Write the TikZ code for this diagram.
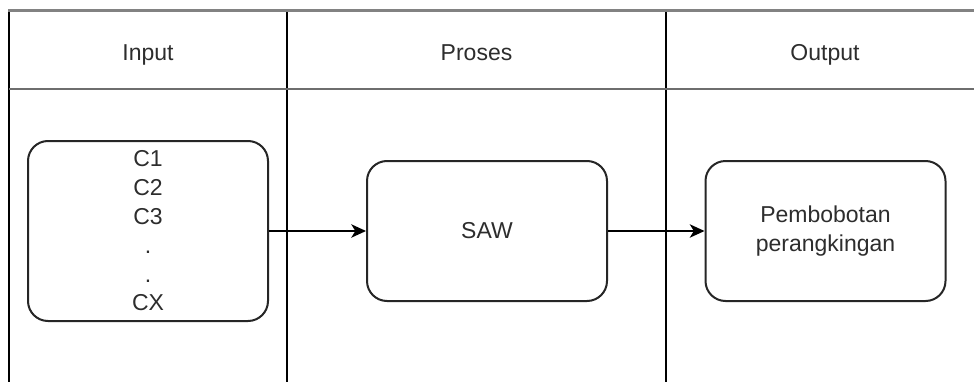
\documentclass[tikz,border=0pt]{standalone}
\usepackage{fontspec}
\setmainfont{Liberation Sans}
\usetikzlibrary{arrows.meta}
\definecolor{txt}{RGB}{45,45,45}
\definecolor{topgray}{RGB}{130,130,130}
\definecolor{hdrgray}{RGB}{110,110,110}
\tikzset{
  procbox/.style={draw=black!85, line width=1.5pt, rounded corners=15pt, align=center,
    text=txt, font=\fontsize{17.25pt}{21.6pt}\selectfont, inner sep=0pt},
  hdr/.style={text=txt, font=\fontsize{17.25pt}{21.6pt}\selectfont, anchor=base},
  lane/.style={draw=black, line width=1.4pt},
  flow/.style={draw=black, line width=1.5pt, -{Stealth[length=11pt,width=10pt,inset=3pt]}}
}
\begin{document}
\begin{tikzpicture}[x=0.75pt,y=-0.75pt]
\useasboundingbox (0,0) rectangle (974,382);
\fill[white] (0,0) rectangle (974,382);
% lanes
\coordinate (l0t) at (9,10);   \coordinate (l0b) at (9,382);
\coordinate (l1t) at (287,10); \coordinate (l1b) at (287,382);
\coordinate (l2t) at (666,10); \coordinate (l2b) at (666,382);
\coordinate (tl) at (8,10.5);  \coordinate (tr) at (974,10.5);
\coordinate (hl) at (9,89);    \coordinate (hr) at (974,89);
\draw[lane] (l0t) -- (l0b);
\draw[lane] (l1t) -- (l1b);
\draw[lane] (l2t) -- (l2b);
\draw[draw=topgray, line width=2.4pt] (tl) -- (tr);
\draw[draw=hdrgray, line width=1.8pt] (hl) -- (hr);
% headers
\node[hdr] (hin) at (148,60) {Input};
\node[hdr] (hpr) at (476.5,60) {Proses};
\node[hdr] (hout) at (825,60) {Output};
% boxes
\node[procbox, minimum width=180pt, minimum height=135pt] (in) at (148,231)
  {C1\\C2\\C3\\.\\.\\CX};
\node[procbox, minimum width=180pt, minimum height=105pt] (saw) at (487,231) {SAW};
\node[procbox, minimum width=180pt, minimum height=105pt] (out) at (825.5,231)
  {Pembobotan\\perangkingan};
% connectors
\draw[flow] (in.east) -- (saw.west);
\draw[flow] (saw.east) -- (out.west);
\end{tikzpicture}
\end{document}
